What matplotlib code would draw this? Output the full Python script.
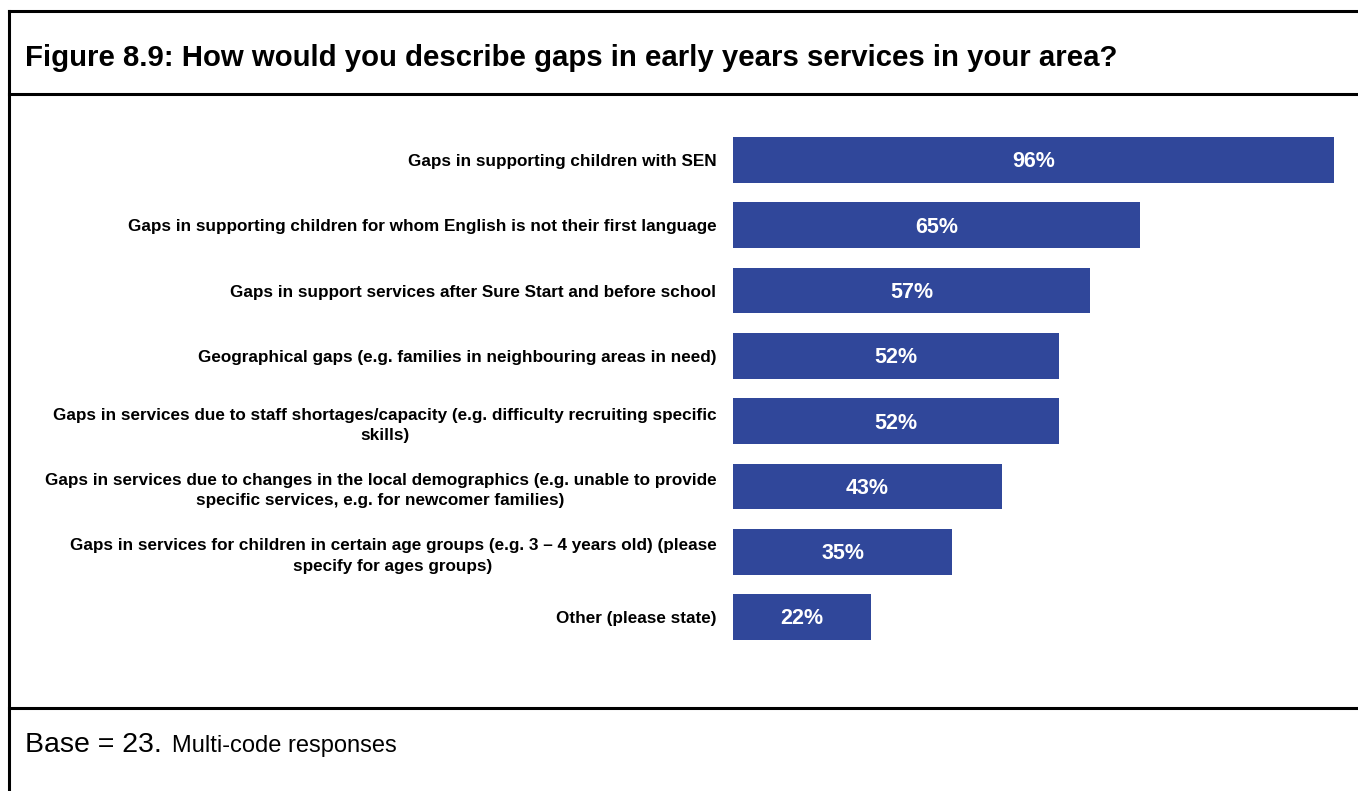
import matplotlib
matplotlib.use("Agg")
import matplotlib.pyplot as plt
from matplotlib.lines import Line2D

categories = [
    "Gaps in supporting children with SEN",
    "Gaps in supporting children for whom English is not their first language",
    "Gaps in support services after Sure Start and before school",
    "Geographical gaps (e.g. families in neighbouring areas in need)",
    "Gaps in services due to staff shortages/capacity (e.g. difficulty recruiting specific\nskills)",
    "Gaps in services due to changes in the local demographics (e.g. unable to provide\nspecific services, e.g. for newcomer families)",
    "Gaps in services for children in certain age groups (e.g. 3 \u2013 4 years old) (please\nspecify for ages groups)",
    "Other (please state)",
]
values = [96, 65, 57, 52, 52, 43, 35, 22]
value_labels = ["96%", "65%", "57%", "52%", "52%", "43%", "35%", "22%"]

W, H = 1358, 791
fig = plt.figure(figsize=(W / 100, H / 100), dpi=100)
plt.rcParams['font.family'] = ['Liberation Sans', 'DejaVu Sans']

# axes: x 733..1359 px, y bars centres 160..617 px
ax_left = 733 / W
ax_right = 1359 / W
top_px = 160 - 65.3 / 2
bot_px = 617 + 65.3 / 2
ax = fig.add_axes([ax_left, 1 - bot_px / H, ax_right - ax_left, (bot_px - top_px) / H])
ypos = list(range(len(categories)))
ax.barh(ypos, values, height=0.70, color="#30479A")
ax.set_xlim(0, 100)
ax.set_ylim(len(categories) - 0.5, -0.5)
ax.set_yticks(ypos)
ax.set_yticklabels(categories, fontsize=12.3, fontweight="bold",
                   multialignment="center", linespacing=1.45)
ax.tick_params(axis="y", length=0, pad=12)
ax.set_xticks([])
for s in ax.spines.values():
    s.set_visible(False)
for y, v, lab in zip(ypos, values, value_labels):
    ax.text(v / 2, y + 0.03, lab, ha="center", va="center", color="white",
            fontsize=15.5, fontweight="bold")

# frame lines
def hline(ypx):
    fig.add_artist(Line2D([9 / W, 1], [1 - ypx / H, 1 - ypx / H], color="black", lw=2.2))
hline(11)
hline(94)
hline(708)
fig.add_artist(Line2D([9 / W, 9 / W], [1 - 11 / H, 0], color="black", lw=2.2))

fig.text(25 / W, 1 - 58 / H,
         "Figure 8.9: How would you describe gaps in early years services in your area?",
         fontsize=21.2, fontweight="bold", ha="left", va="center")
t1 = fig.text(25 / W, 1 - 745 / H, "Base = 23.", fontsize=20.5, ha="left", va="center")
fig.canvas.draw()
bb = t1.get_window_extent()
fig.text(bb.x1 / W + 10 / W, 1 - 746 / H, "Multi-code responses", fontsize=17,
         ha="left", va="center")

fig.savefig("out.png", dpi=100)
